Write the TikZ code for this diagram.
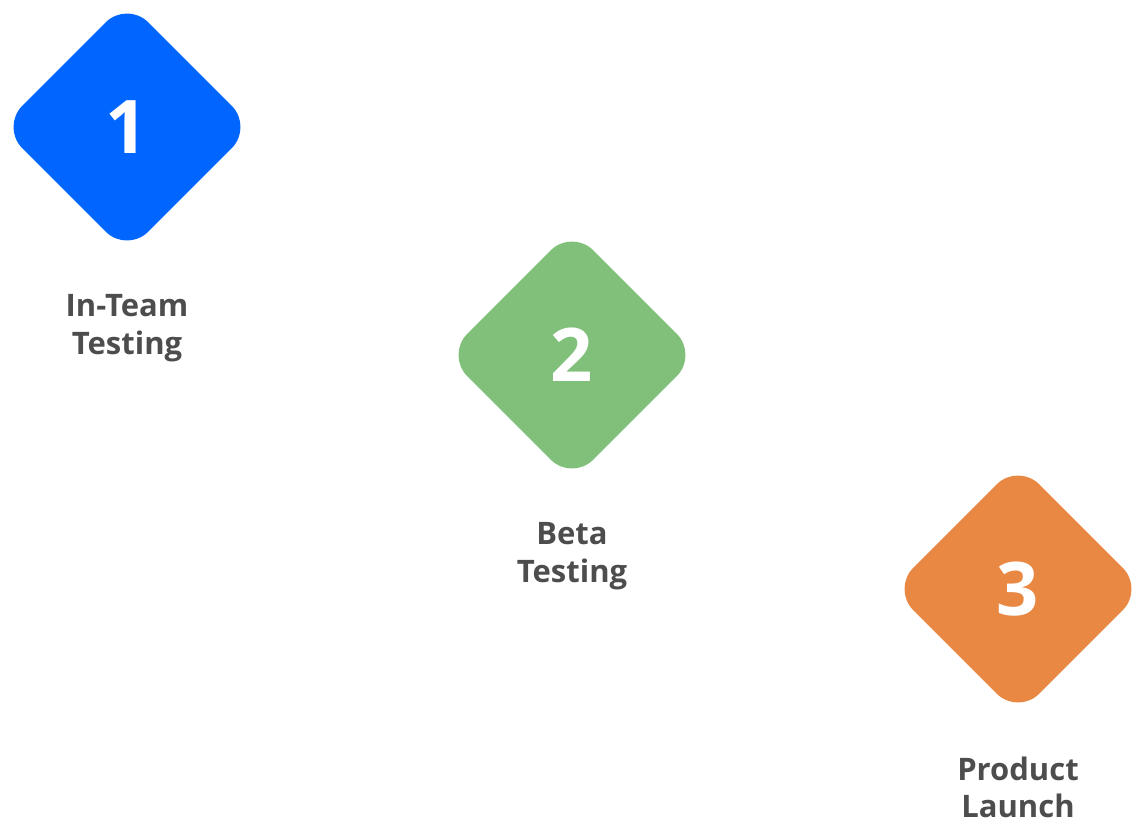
\documentclass[tikz,border=0pt]{standalone}
\usepackage{fontspec}
\setmainfont{Open Sans}
\usetikzlibrary{shapes.geometric,positioning}
\definecolor{stepblue}{HTML}{0066FF}
\definecolor{stepgreen}{HTML}{81C07A}
\definecolor{steporange}{HTML}{E98842}
\definecolor{labelgray}{HTML}{4D4D4D}
\tikzset{
  stone/.style={diamond,aspect=1,minimum size=252pt,inner sep=0pt,rounded corners=30pt,
    fill=#1,text=white,font=\fontsize{74}{74}\selectfont\bfseries},
  caption/.style={align=center,text=labelgray,font=\fontsize{31}{37.5}\selectfont\bfseries}
}
\begin{document}
\begin{tikzpicture}[x=1pt,y=-1pt]
            \useasboundingbox (0,0) rectangle (1146,838);

            \node[stone=stepblue] (one) at (127,127) {1};
            \node[stone=stepgreen] (two) at (572,355) {2};
            \node[stone=steporange] (three) at (1018,589) {3};

            \node[caption,below=38pt of one] (oneText) {In-Team\\Testing};
            \node[caption,below=38pt of two] (twoText) {Beta\\Testing};
            \node[caption,below=38pt of three] (threeText) {Product\\Launch};
        \end{tikzpicture}
\end{document}
